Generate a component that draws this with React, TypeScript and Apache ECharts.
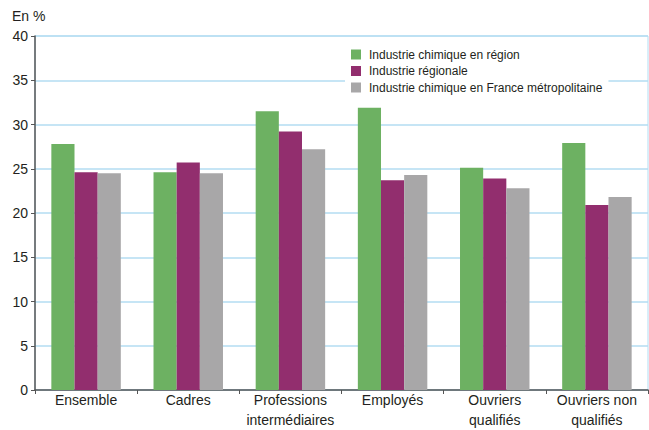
import React, { useEffect, useRef } from "react";
import * as echarts from "echarts";

const categories = [
  "Ensemble",
  "Cadres",
  "Professions\nintermédiaires",
  "Employés",
  "Ouvriers\nqualifiés",
  "Ouvriers non\nqualifiés",
];
const seriesNames = [
  "Industrie chimique en région",
  "Industrie régionale",
  "Industrie chimique en France métropolitaine",
];
const chimieRegion = [27.8, 24.6, 31.5, 31.9, 25.1, 27.9];
const industrieRegionale = [24.6, 25.7, 29.2, 23.7, 23.9, 20.9];
const chimieFrance = [24.5, 24.5, 27.2, 24.3, 22.8, 21.8];
const colors = ["#6db162", "#922e6e", "#a8a7a8"];

export default function App() {
  const ref = useRef<HTMLDivElement>(null);
  useEffect(() => {
    const chart = echarts.init(ref.current!, null, { renderer: "svg" });
    const font = "'Liberation Sans', Arial, sans-serif";
    const values = [chimieRegion, industrieRegionale, chimieFrance];
    chart.setOption({
      animation: false,
      textStyle: { fontFamily: font },
      grid: {
        left: 35,
        right: 1,
        top: 36,
        bottom: 38,
        show: true,
        borderColor: "#b3dcf2",
        borderWidth: 1,
      },
      graphic: [
        {
          type: "text",
          left: 12,
          top: 9,
          style: { text: "En %", fontSize: 14, fill: "#231f20", fontFamily: font },
        },
      ],
      legend: {
        orient: "vertical",
        left: 345,
        top: 45,
        padding: [3, 6, 5, 6],
        backgroundColor: "#ffffff",
        itemWidth: 10,
        itemHeight: 10,
        itemGap: 3.5,
        icon: "rect",
        textStyle: {
          fontSize: 12,
          lineHeight: 13,
          color: "#231f20",
          fontFamily: font,
          padding: [0, 0, 0, 3],
        },
        data: seriesNames,
      },
      xAxis: {
        type: "category",
        data: categories,
        axisLine: { lineStyle: { color: "#555555", width: 1.5 } },
        axisTick: { show: true, length: 4, lineStyle: { color: "#555555" } },
        axisLabel: {
          fontSize: 14,
          color: "#231f20",
          margin: 0,
          lineHeight: 20,
          interval: 0,
        },
      },
      yAxis: {
        type: "value",
        min: 0,
        max: 40,
        interval: 5,
        axisLine: { show: true, lineStyle: { color: "#555555", width: 1.5 } },
        axisTick: { show: true, length: 4, lineStyle: { color: "#555555" } },
        axisLabel: { fontSize: 14, color: "#231f20", margin: 7 },
        splitLine: { lineStyle: { color: "#b3dcf2", width: 1.5 } },
      },
      series: seriesNames.map((name, i) => ({
        name,
        type: "bar",
        data: values[i],
        barGap: "0%",
        barCategoryGap: "32%",
        itemStyle: { color: colors[i] },
        z: 3,
      })),
    });
    return () => chart.dispose();
  }, []);
  return <div ref={ref} style={{ width: 649, height: 430, position: "absolute", left: 0, top: 0 }} />;
}
